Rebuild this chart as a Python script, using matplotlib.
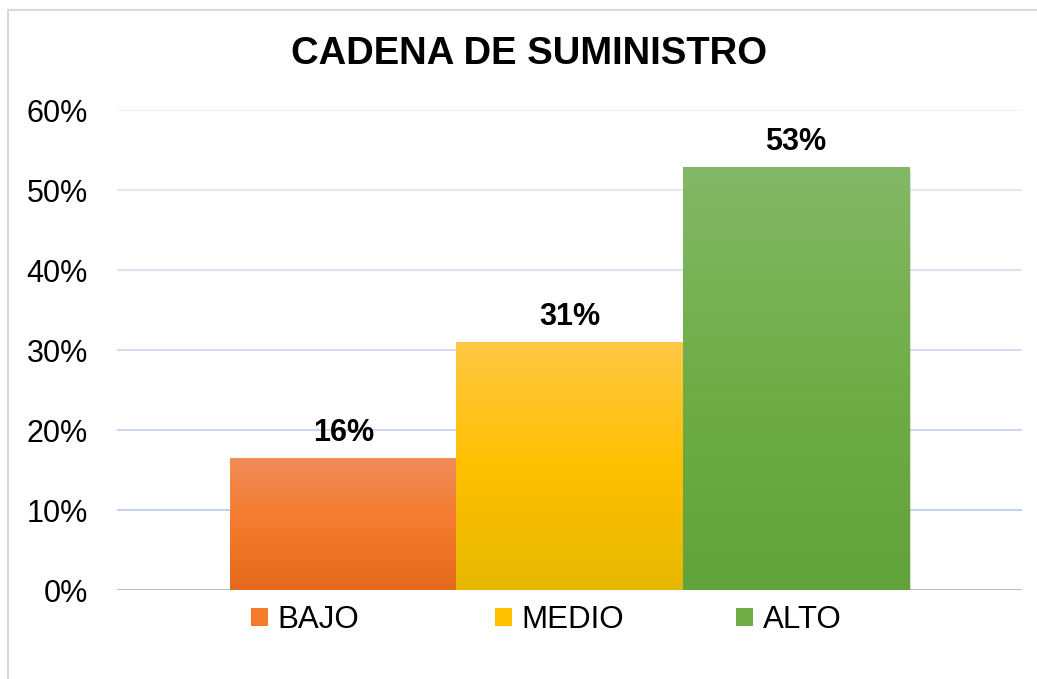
import matplotlib
matplotlib.use("Agg")
import matplotlib.pyplot as plt
import matplotlib.patheffects as pe
from matplotlib.colors import LinearSegmentedColormap
from matplotlib.patches import Rectangle
import numpy as np

plt.rcParams['font.family'] = ['Liberation Sans', 'DejaVu Sans']

# data
categories = ["BAJO", "MEDIO", "ALTO"]
values = [0.164, 0.309, 0.528]
labels = ["16%", "31%", "53%"]
yticks = [0, 0.1, 0.2, 0.3, 0.4, 0.5, 0.6]

# gradient colours (top, middle, bottom)
grads = [
    ("#F08C57", "#F47B2C", "#E4691C"),
    ("#FFC845", "#FFC000", "#E6B800"),
    ("#83B866", "#70AD47", "#62A23A"),
]

fig = plt.figure(figsize=(10.37, 6.79), dpi=100, facecolor="white")
ax = fig.add_axes([117/1037, 1 - 590/679, (1022-117)/1037, 480/679])

# outer chart border
fig.patches.append(Rectangle((8/1037, -0.1), 1.2, 1 - 10/679 + 0.1, transform=fig.transFigure,
                             fill=False, edgecolor="#d9d9d9", linewidth=1.5, zorder=0))

# gridlines, fading towards the top
for i, t in enumerate(yticks):
    alpha = 1.0 - 0.12 * i
    col = "#a9b8d0" if t == 0 else "#b4c7e7"
    ax.axhline(t, color=col, alpha=alpha, linewidth=1.3, zorder=0)

xpos = np.arange(len(categories)) - 1
bars = ax.bar(xpos, values, width=1.0, color=[g[1] for g in grads], zorder=2,
              path_effects=[pe.SimplePatchShadow(offset=(1.5, -1.5), alpha=0.15), pe.Normal()])

# gradient fill on each bar
for b, g in zip(bars, grads):
    cmap = LinearSegmentedColormap.from_list("g", [g[2], g[1], g[0]])
    x0, y0 = b.get_x(), b.get_y()
    w, h = b.get_width(), b.get_height()
    grad = np.linspace(0, 1, 256).reshape(-1, 1)
    ax.imshow(grad, cmap=cmap, origin="lower", aspect="auto",
              extent=(x0, x0 + w, y0, y0 + h), zorder=3)

for b, lab in zip(bars, labels):
    ax.annotate(lab, (b.get_x() + b.get_width() / 2, b.get_height()),
                xytext=(0, 13), textcoords="offset points", ha="center", va="baseline",
                fontsize=22, fontweight="bold", color="black", zorder=5)

ax.set_xlim(-2, 2)
ax.set_ylim(0, 0.6)
ax.set_yticks(yticks)
ax.set_yticklabels([f"{int(round(t*100))}%" for t in yticks])
ax.tick_params(axis="y", length=0, pad=21, labelsize=22)
ax.set_xticks([])
for s in ax.spines.values():
    s.set_visible(False)
ax.set_facecolor("none")

fig.text(529/1037, 1 - 54/679, "CADENA DE SUMINISTRO", ha="center", va="center",
         fontsize=27.5, fontweight="bold")

# legend: one entry per series, spaced like the original
legend_x = [251, 495, 736]
for cat, g, lx in zip(categories, grads, legend_x):
    h = Rectangle((0, 0), 1, 1, facecolor=g[1])
    fig.legend([h], [cat], loc="center left", bbox_to_anchor=(lx/1037, 1 - 620/679),
               frameon=False, fontsize=22.5, handlelength=0.55, handleheight=0.55,
               handletextpad=0.3, borderpad=0, borderaxespad=0)

fig.savefig("out.png", dpi=100, facecolor="white")
